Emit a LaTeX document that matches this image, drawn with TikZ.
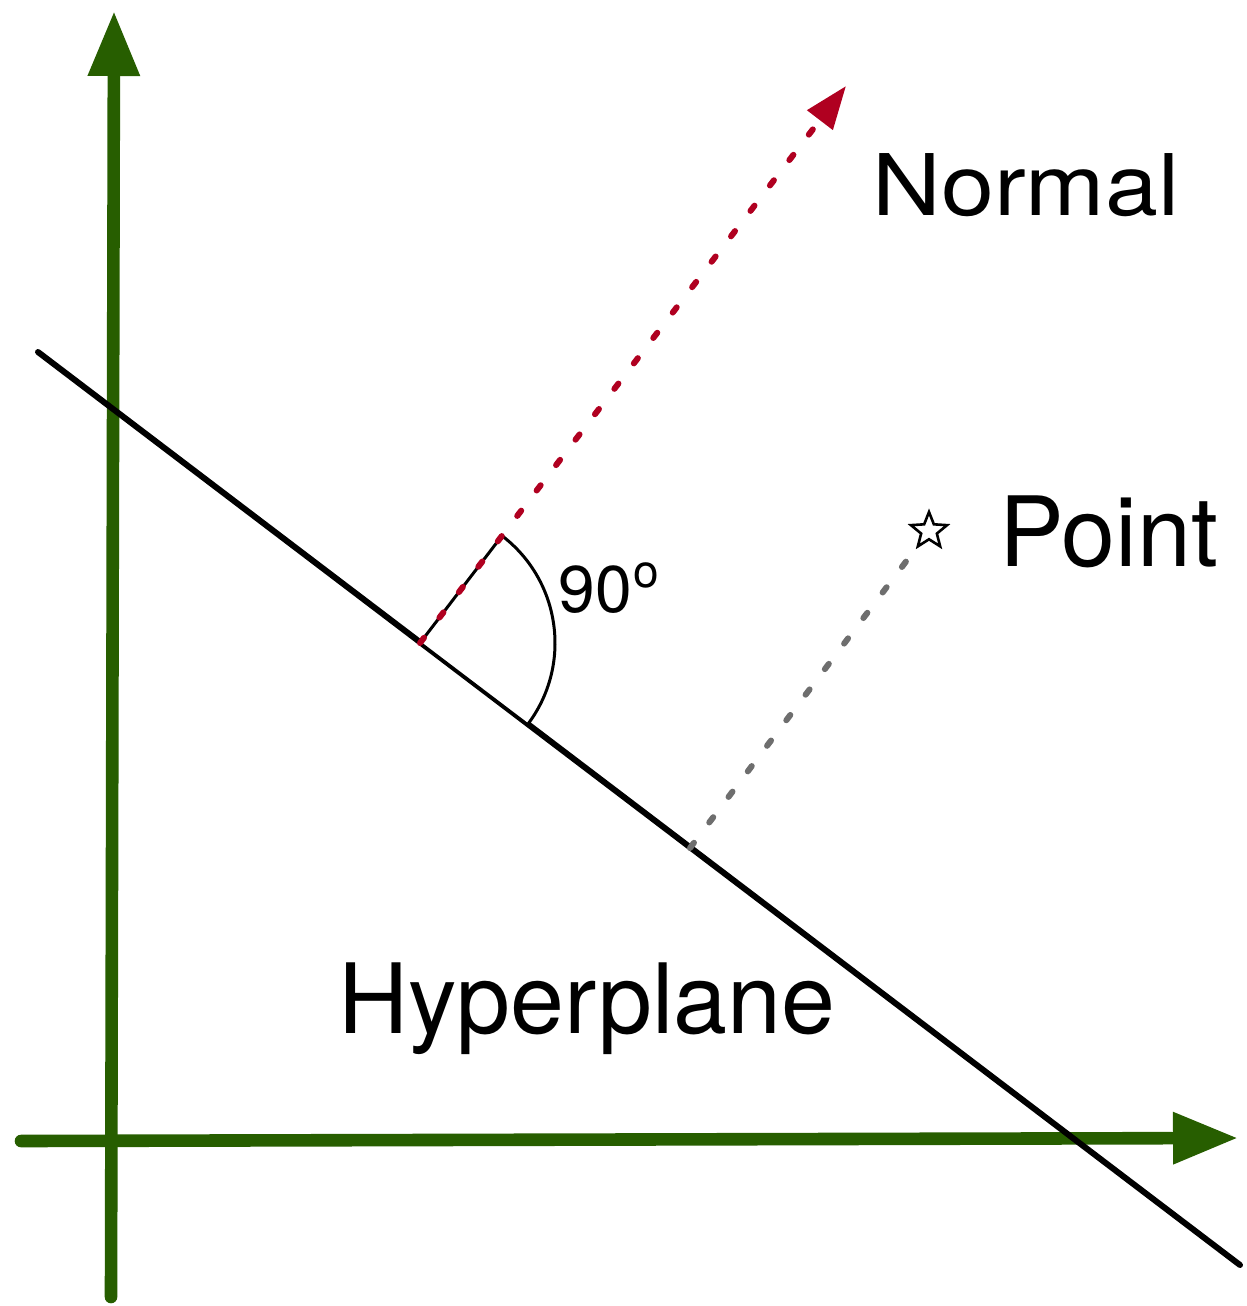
\documentclass[tikz,border=0pt]{standalone}
\usepackage{graphicx}
\usepackage{fontspec}
\setmainfont{TeX Gyre Heros}
\usetikzlibrary{arrows.meta,shapes.geometric,calc}
\definecolor{axisgreen}{RGB}{39,94,0}
\definecolor{normred}{RGB}{176,0,32}
\definecolor{ptgrey}{RGB}{110,110,110}
\begin{document}
\begin{tikzpicture}[x=0.5pt,y=-0.5pt,
  axisline/.style={draw=axisgreen,line width=6.3pt,line cap=round,-{Triangle[length=32.5pt,width=24.5pt]}},
  dotline/.style={line width=3pt,line cap=round,dash pattern=on 3.3pt off 12.7pt},
  lbl/.style={inner sep=0pt,anchor=base west,font=\fontsize{48.5}{58}\selectfont},
]
\useasboundingbox (0,0) rectangle (1247,1306);
% axes
\coordinate (ybot) at (111,1297);
\coordinate (ytop) at (114,11);
\coordinate (xleft) at (21,1141);
\coordinate (xright) at (1238,1138);
\draw[axisline] (ybot) -- (ytop);
\draw[axisline] (xleft) -- (xright);
% hyperplane
\coordinate (hpA) at (38,352);
\coordinate (hpB) at (1240,1265);
\draw[line width=3pt,line cap=round] (hpA) -- (hpB);
% right-angle sector
\coordinate (foot) at (420,643);
\coordinate (ntip) at (846,86);
\draw[fill=white,line width=1.5pt,line join=round] (foot) -- ++(-52.6:135) arc[start angle=-52.6,end angle=37.2,radius=135] -- cycle;
% normal
\draw[dotline,draw=normred,-{Triangle[length=21.5pt,width=15.5pt]}] (foot) -- (ntip);
% point
\coordinate (gfoot) at (690,848);
\coordinate (ptc) at (929,531);
\draw[dotline,draw=ptgrey] (gfoot) -- (ptc);
\node[star,star points=5,star point ratio=2.3,draw,line width=1.3pt,fill=white,minimum size=19pt,inner sep=0pt] (pt) at (ptc) {};
% labels
\node[lbl,font=\fontsize{42.5}{50}\selectfont] (normal) at (872,215) {\scalebox{1.12}[1]{Normal}};
\node[lbl] (point) at (999,566) {Point};
\node[lbl] (hyper) at (338,1033) {Hyperplane};
\node[lbl,font=\fontsize{33}{40}\selectfont] (angle) at (558,612) {90\kern1pt\raisebox{12.5pt}{\fontsize{23}{28}\selectfont o}};
\end{tikzpicture}
\end{document}
